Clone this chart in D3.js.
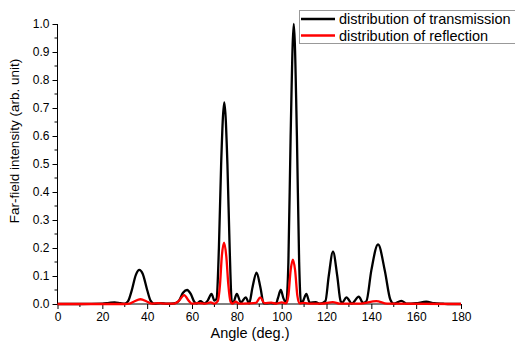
<!DOCTYPE html>
<html>
<head>
<meta charset="utf-8">
<script src="https://cdn.jsdelivr.net/npm/d3@7"></script>
<style>
  body { margin: 0; background: #fff; }
  text { font-family: "Liberation Sans", Arial, sans-serif; }
</style>
</head>
<body>
<div id="chart"></div>
<script>
// angle (deg.) / intensity samples
const transAngle = [0, 10, 20, 23, 25.5, 28, 30, 31.5, 33, 35, 36.5, 38, 40, 41.5, 43, 46, 49, 52, 54, 56, 57.8, 59.5, 61, 62,
  63.8, 65.5, 67, 68.7, 70, 71, 72, 73, 74.4, 75.8, 76.8, 77.7, 78.3, 80, 81.8, 84, 85.5, 87, 88.8, 90.5, 92, 95, 97.5,
  98.3, 99.6, 100.8, 102, 103, 104, 105.4, 106.8, 107.8, 108.6, 109.5, 111, 112.5, 115.2, 117, 119.5, 121, 122.9, 124.8,
  126.3, 127, 128.9, 131.3, 134.4, 136.3, 137.8, 140, 143, 146, 148.5, 150, 153.4, 156, 160, 164.5, 168, 172, 175, 180];
const transValue = [0, 0, 0.001, 0.004, 0.006, 0.003, 0.001, 0.01, 0.045, 0.105, 0.122, 0.108, 0.05, 0.012, 0.001, 0.003, 0.001, 0.002, 0.01, 0.04, 0.05, 0.035, 0.008, 0.002,
  0.01, 0.002, 0.012, 0.036, 0.012, 0.02, 0.2, 0.5, 0.72, 0.5, 0.2, 0.01, 0.003, 0.036, 0.005, 0.024, 0.002, 0.06, 0.112, 0.06, 0.002, 0.003, 0.002,
  0.02, 0.05, 0.02, 0.005, 0.15, 0.6, 1.0, 0.6, 0.15, 0.005, 0.01, 0.036, 0.005, 0.007, 0.001, 0.01, 0.1, 0.187, 0.1,
  0.01, 0.005, 0.024, 0.002, 0.026, 0.004, 0.01, 0.12, 0.213, 0.12, 0.015, 0.001, 0.011, 0.001, 0.003, 0.008, 0.003, 0.001, 0, 0];

const reflAngle = [0, 30, 32, 34, 37, 40, 42, 45, 48, 52, 54, 56.5, 58.5, 60, 63, 66, 68.3, 70, 71.5, 72.5, 73.3, 74.3, 75.3,
  76.2, 77.2, 78, 79.5, 81, 85, 88.5, 90.5, 92.3, 95.4, 97.5, 100, 102, 103, 104, 105, 106, 107, 108, 110, 113, 118,
  122.8, 126, 135, 142.2, 147, 180];
const reflValue = [0, 0, 0.001, 0.008, 0.017, 0.008, 0.001, 0.003, 0.001, 0.001, 0.01, 0.032, 0.012, 0.001, 0.003, 0.001, 0.006, 0.001, 0.01, 0.07, 0.17, 0.219, 0.17,
  0.07, 0.008, 0.001, 0.008, 0.001, 0.002, 0.004, 0.024, 0.003, 0.005, 0.001, 0.006, 0.002, 0.03, 0.12, 0.158, 0.12, 0.03, 0.002, 0.004, 0.001, 0.001,
  0.007, 0.001, 0.001, 0.01, 0.001, 0];

const xTicks = [0, 20, 40, 60, 80, 100, 120, 140, 160, 180];
const yTicks = [0.0, 0.1, 0.2, 0.3, 0.4, 0.5, 0.6, 0.7, 0.8, 0.9, 1.0];
const legendNames = ['distribution of transmission', 'distribution of reflection'];
const colors = ['#000000', '#ff0000'];

var W = 515, H = 343;
var margin = {left: 57.5, right: 54, top: 24, bottom: 39};

var svg = d3.select('#chart').append('svg')
  .attr('width', W).attr('height', H);

var x = d3.scaleLinear().domain([0, 180]).range([margin.left, W - margin.right]);
var y = d3.scaleLinear().domain([0, 1]).range([H - margin.bottom, margin.top]);

var line = d3.line()
  .x(function(d) { return x(d[0]); })
  .y(function(d) { return y(d[1]); })
  .curve(d3.curveMonotoneX);

var trans = transAngle.map(function(a, i) { return [a, transValue[i]]; });
var refl = reflAngle.map(function(a, i) { return [a, reflValue[i]]; });

// axes (major + minor ticks, outward)
var xMinor = d3.range(10, 180, 20);
var yMinor = d3.range(0.05, 1, 0.1);

var gx = svg.append('g').attr('transform', 'translate(0,' + y(0) + ')');
gx.call(d3.axisBottom(x).tickValues(xTicks).tickSize(5).tickPadding(3).tickFormat(d3.format('d')));
gx.append('g').selectAll('line').data(xMinor).enter().append('line')
  .attr('x1', x).attr('x2', x).attr('y1', 0).attr('y2', 3).attr('stroke', '#000');

var gy = svg.append('g').attr('transform', 'translate(' + x(0) + ',0)');
gy.call(d3.axisLeft(y).tickValues(yTicks).tickSize(5).tickPadding(3).tickFormat(d3.format('.1f')));
gy.append('g').selectAll('line').data(yMinor).enter().append('line')
  .attr('y1', y).attr('y2', y).attr('x1', 0).attr('x2', -3).attr('stroke', '#000');

gx.select('.domain').remove();
gy.select('.domain').remove();
svg.append('line').attr('x1', x(0)).attr('x2', x(180)).attr('y1', y(0)).attr('y2', y(0)).attr('stroke', '#000');
svg.append('line').attr('x1', x(0)).attr('x2', x(0)).attr('y1', y(0)).attr('y2', y(1)).attr('stroke', '#000');

svg.selectAll('.tick text').style('font-size', '12px').attr('fill', '#000')
  .style('font-family', '"Liberation Sans", Arial, sans-serif');

// curves
svg.append('path').datum(trans).attr('d', line)
  .attr('fill', 'none').attr('stroke', colors[0]).attr('stroke-width', 2.3);
svg.append('path').datum(refl).attr('d', line)
  .attr('fill', 'none').attr('stroke', colors[1]).attr('stroke-width', 2.3);

// axis titles
svg.append('text')
  .attr('x', 250).attr('y', 338)
  .attr('text-anchor', 'middle')
  .style('font-size', '14.5px')
  .text('Angle (deg.)');

svg.append('text')
  .attr('transform', 'translate(19,141) rotate(-90)')
  .attr('text-anchor', 'middle')
  .style('font-size', '13.5px')
  .text('Far-field intensity (arb. unit)');

// legend
var lg = svg.append('g').attr('transform', 'translate(299,10)');
lg.append('rect').attr('x', 0.5).attr('y', 0.5).attr('width', 230).attr('height', 33)
  .attr('fill', '#fff').attr('stroke', '#999');
legendNames.forEach(function(name, i) {
  var yy = 9 + i * 16.5;
  lg.append('line').attr('x1', 2).attr('x2', 36).attr('y1', yy).attr('y2', yy)
    .attr('stroke', colors[i]).attr('stroke-width', 2.5);
  lg.append('text').attr('x', 40).attr('y', yy + 5)
    .style('font-size', '14.5px').text(name);
});
</script>
</body>
</html>
